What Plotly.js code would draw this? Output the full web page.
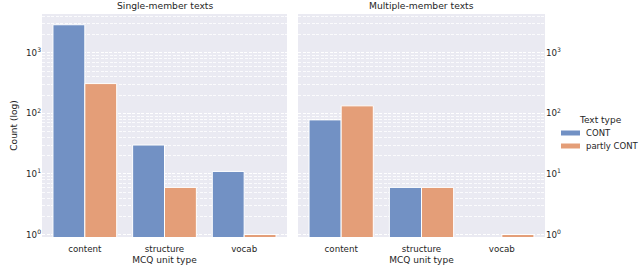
<!DOCTYPE html>
<html>
<head>
<meta charset="utf-8">
<script src="https://cdn.plot.ly/plotly-3.0.1.min.js"></script>
<style>html,body{margin:0;padding:0;background:#fff;}#chart{width:640px;height:278px;}</style>
</head>
<body>
<div id="chart"></div>
<script>
const categories = ['content', 'structure', 'vocab'];
const seriesNames = ['CONT', 'partly CONT'];
const singleCont = [2900, 30, 11];
const singlePartly = [310, 6, 1];
const multiCont = [78, 6, null];
const multiPartly = [133, 6, 1];
const panelTitles = ['Single-member texts', 'Multiple-member texts'];
const legendTitle = 'Text type';
const tickVals = [1, 10, 100, 1000];
const tickText = ['10<sup>0</sup>', '10<sup>1</sup>', '10<sup>2</sup>', '10<sup>3</sup>'];
const minorVals = [2, 3, 4, 5, 6, 7, 8, 9, 20, 30, 40, 50, 60, 70, 80, 90,
                   200, 300, 400, 500, 600, 700, 800, 900, 2000, 3000, 4000];

const blue = '#7291C4';
const orange = '#E49E78';
const colors = [blue, orange];
const font = 'DejaVu Sans, sans-serif';
const txt = '#262626';

function bar(y, name, color, xa, ya) {
  return {
    type: 'bar', x: categories, y: y, name: name, xaxis: xa, yaxis: ya,
    marker: {color: color, line: {color: 'white', width: 1}},
    showlegend: false, hoverinfo: 'skip'
  };
}

const data = [
  bar(singleCont, seriesNames[0], blue, 'x', 'y'),
  bar(singlePartly, seriesNames[1], orange, 'x', 'y'),
  bar(multiCont, seriesNames[0], blue, 'x2', 'y2'),
  bar(multiPartly, seriesNames[1], orange, 'x2', 'y2')
];

const yr = [Math.log10(0.91), 3.64];
const yDom = [1 - 237/278, 1 - 14/278];
const gridOpts = {
  gridcolor: 'white', griddash: '3px,1.5px', gridwidth: 1,
  minor: {tickmode: 'array', tickvals: minorVals, showgrid: true, gridcolor: 'white', griddash: '3px,1.5px', gridwidth: 0.8, ticks: ''}
};
const xCommon = {
  type: 'category', range: [-0.5375, 2.5375], showgrid: false, zeroline: false, ticks: '', showline: false,
  tickfont: {family: font, size: 8.7, color: txt}, ticklabelstandoff: 5,
  title: {text: 'MCQ unit type', font: {family: font, size: 9, color: txt}, standoff: 3}
};
const yCommon = {
  type: 'log', range: yr, domain: yDom,
  tickmode: 'array', tickvals: tickVals, ticktext: tickText, ticks: '', zeroline: false, showline: false,
  tickfont: {family: font, size: 8.7, color: txt}
};

const shapes = [];
const annotations = [
  {text: panelTitles[0], xref: 'paper', yref: 'paper', x: (42 + 287) / 2 / 640, y: 1 - 6/278,
   xanchor: 'center', yanchor: 'middle', showarrow: false, font: {family: font, size: 9.2, color: txt}},
  {text: panelTitles[1], xref: 'paper', yref: 'paper', x: (298 + 545) / 2 / 640, y: 1 - 6/278,
   xanchor: 'center', yanchor: 'middle', showarrow: false, font: {family: font, size: 9.2, color: txt}},
  {text: legendTitle, xref: 'paper', yref: 'paper', x: 577/640, y: 1 - 120/278,
   xanchor: 'left', yanchor: 'middle', showarrow: false, font: {family: font, size: 9, color: txt}}
];
seriesNames.forEach(function (name, i) {
  const yc = 133 + i * 13;
  shapes.push({type: 'rect', xref: 'paper', yref: 'paper', x0: 561/640, x1: 580/640,
               y0: 1 - (yc + 2.5)/278, y1: 1 - (yc - 2.5)/278,
               fillcolor: colors[i], line: {width: 0}});
  annotations.push({text: name, xref: 'paper', yref: 'paper', x: 584/640, y: 1 - yc/278,
                    xanchor: 'left', yanchor: 'middle', showarrow: false,
                    font: {family: font, size: 8.5, color: txt}});
});

const layout = {
  width: 640, height: 278,
  margin: {l: 0, r: 0, t: 0, b: 0},
  paper_bgcolor: 'white', plot_bgcolor: '#EAEAF2',
  barmode: 'group', bargap: 0.2, bargroupgap: 0,
  font: {family: font, size: 9, color: txt},
  showlegend: false,
  xaxis: Object.assign({}, xCommon, {domain: [42/640, 287/640], anchor: 'y'}),
  xaxis2: Object.assign({}, xCommon, {domain: [298/640, 545/640], anchor: 'y2'}),
  yaxis: Object.assign({}, gridOpts, yCommon, {
    anchor: 'x', side: 'left',
    title: {text: 'Count (log)', font: {family: font, size: 9, color: txt}, standoff: 6}
  }),
  yaxis2: Object.assign({}, gridOpts, yCommon, {anchor: 'x2', side: 'right'}),
  shapes: shapes,
  annotations: annotations
};

Plotly.newPlot('chart', data, layout, {displayModeBar: false, staticPlot: true});
</script>
</body>
</html>
